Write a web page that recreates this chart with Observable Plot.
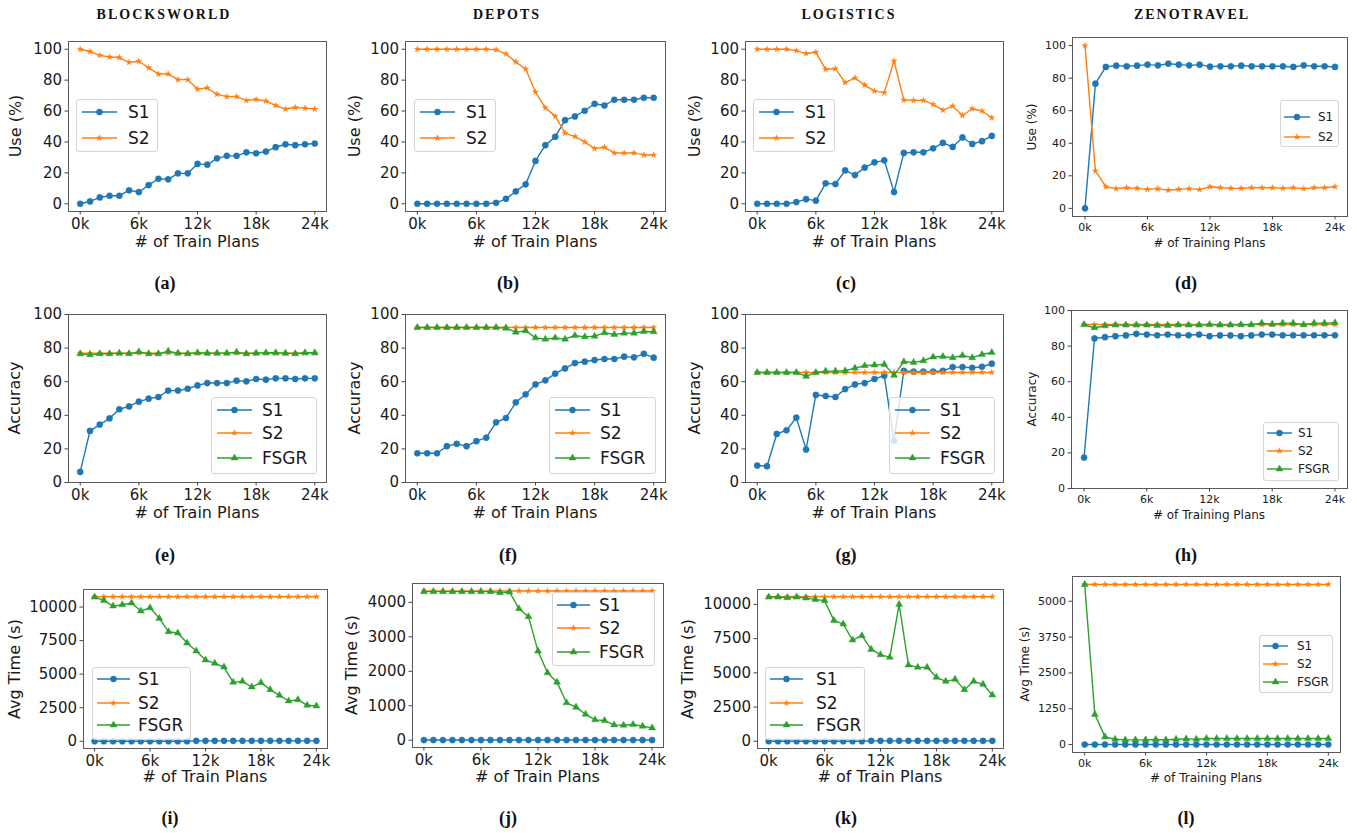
<!DOCTYPE html>
<html><head><meta charset="utf-8">
<script src="https://cdn.jsdelivr.net/npm/d3@7"></script>
<script src="https://cdn.jsdelivr.net/npm/@observablehq/plot@0.6"></script>
<style>
body{margin:0;background:#fff;}
#root{position:relative;width:1357px;height:833px;overflow:hidden;font-family:"DejaVu Sans",sans-serif;color:#1a1a1a;}
.abs{position:absolute;white-space:nowrap;line-height:1;}
.cen{transform:translate(-50%,-50%);}
.rot{transform:translate(-50%,-50%) rotate(-90deg);}
.title{font-family:"Liberation Serif","DejaVu Serif",serif;font-weight:bold;font-size:14px;letter-spacing:2px;color:#111;}
.cap{font-family:"Liberation Serif","DejaVu Serif",serif;font-weight:bold;font-size:18px;color:#111;}
.legend{position:absolute;border:1px solid #d5d5d5;border-radius:3px;background:rgba(255,255,255,0.8);box-sizing:border-box;}
</style>
</head><body><div id="root"></div>
<script>
// ---------- data ----------
const xK = [0,1,2,3,4,5,6,7,8,9,10,11,12,13,14,15,16,17,18,19,20,21,22,23,24];
const xTicks = [0,6,12,18,24];
const xTickLabels = ["0k","6k","12k","18k","24k"];
const pctTicks = [0,20,40,60,80,100];
const time10kTicks = [0,2500,5000,7500,10000];
const time4kTicks = [0,1000,2000,3000,4000];
const time5kTicks = [0,1250,2500,3750,5000];

// Use (%)
const bwUseS1 = [0,1.5,4.1,5.2,5.2,8.7,7.6,12.1,16.2,15.8,19.7,19.7,25.8,25.3,29.4,31,31,33.3,32.7,33.8,36.6,38.5,37.9,38.5,39];
const bwUseS2 = [100,98.5,96,95,94.6,91.5,92.2,88,84,84,80.3,80.3,74.2,74.9,70.8,69.3,69.3,66.9,67.5,66.5,63.6,61.3,62.3,61.9,61.3];
const dpUseS1 = [0,0,0,0,0,0,0,0,0.6,3.2,8,12.6,27.7,37.9,43.3,54.1,56.5,60.2,64.7,63.6,67.3,67.3,67.3,68.6,68.6];
const dpUseS2 = [100,100,100,100,100,100,100,100,99.6,97,91.8,87.2,72.3,62.1,56.7,45.7,43.5,40,35.7,36.6,32.9,32.9,32.9,31.6,31.6];
const lgUseS1 = [0,0,0,0,1.1,3,2,13.2,12.8,21.6,18.6,23.4,26.8,28.1,7.6,32.9,33.3,33.3,35.9,39.4,36.8,42.9,38.7,40.5,43.9];
const lgUseS2 = [100,100,100,100,99.1,97.2,98,87,87.4,78.4,81.4,76.8,72.9,71.9,92.4,67.1,66.9,66.9,64.3,60.6,63.2,57.1,61.5,60,55.6];
const ztUseS1 = [0,76.6,86.9,87.7,87.3,87.7,88.3,87.9,88.9,88.3,87.9,88.3,87.1,87.3,87.3,87.7,87.3,87.3,87.3,87.3,86.9,87.9,87.3,87.3,86.9];
const ztUseS2 = [100,23,13.3,12.1,12.7,12.3,11.7,12.1,11.1,11.7,12.1,11.5,13.3,12.7,12.3,12.3,12.7,12.7,12.7,12.3,12.7,12.1,12.7,12.7,13.3];

// Accuracy
const bwAccS1 = [6.3,30.7,34.5,38.2,43.6,45.3,48.1,49.9,50.9,54.7,54.7,55.8,57.8,59.2,59.2,59.2,60.6,60.2,61.6,61.2,62,62,61.6,62,62];
const bwAccS2 = [77,77,77,77,77,77,77,77,77,77,77,77,77,77,77,77,77,77,77,77,77,77,77,77,77];
const bwAccFSGR = [76.6,76,76.6,76.6,77,76.6,77.8,76.6,76.6,78.2,77,76.6,77.2,77,77,77,77.6,76.6,77,77.2,77.2,77,76.6,77.2,77.2];
const dpAccS1 = [17.4,17.4,17.4,21.6,23,21.6,24.6,26.7,35.8,38.4,47.7,52.5,58.4,60.8,64.8,67.9,71.1,71.9,72.9,73.5,73.5,74.9,74.5,76.6,74.3];
const dpAccS2 = [92.3,92.3,92.3,92.3,92.3,92.3,92.3,92.3,92.3,92.3,92.3,92.3,92.3,92.3,92.3,92.3,92.3,92.3,92.3,92.3,92.3,92.3,92.3,92.3,92.3];
const dpAccFSGR = [92.3,92.3,92.3,92.3,92.3,92.3,92.3,92.3,92.3,91.9,89.5,90.3,86.1,85.3,86.1,85.3,87.5,86.7,87.1,89.1,88.1,88.9,88.9,89.9,89.7];
const lgAccS1 = [10.1,9.7,28.9,31.1,38.6,19.6,52.1,51.5,50.9,55.6,58.4,59.2,61.6,63.6,24.8,66.5,66,66,66,66.5,68.7,68.7,68.3,68.9,70.7];
const lgAccS2 = [65.5,65.5,65.5,65.5,65.5,65.5,65.5,65.5,65.5,65.5,65.5,65.5,65.5,65.5,65.5,65.5,65.5,65.5,65.5,65.5,65.5,65.5,65.5,65.5,65.5];
const lgAccFSGR = [65.5,65.5,65.5,65.5,65.5,63.2,65.5,66.3,66.3,66.5,68.1,69.5,69.9,70.3,63.8,71.9,71.5,72.5,74.7,75,74.3,75.6,74.3,76.2,77.4];
const ztAccS1 = [17.4,84.3,85,85.6,86,86.9,86.5,86.1,86.5,86.1,86.1,86.5,85.6,86,86,85.6,86,86.5,86.5,86.1,86.1,86.1,86.1,86.1,86.1];
const ztAccS2 = [92.1,92.1,92.1,92.1,92.1,92.1,92.1,92.1,92.1,92.1,92.1,92.1,92.1,92.1,92.1,92.1,92.1,92.1,92.1,92.1,92.1,92.1,92.1,92.1,92.1];
const ztAccFSGR = [92.1,90.3,91.4,91.8,91.8,91.8,91.8,91.6,91.6,91.8,91.8,91.8,92.1,91.8,91.8,92,92,92.9,92.3,92.9,92.9,92,92.9,92.9,93.1];

// Avg Time (s)
const bwTimeS1 = [0,0,0,0,0,0,0,0,0,0,0,30,30,30,30,30,30,30,30,30,30,30,30,30,30];
const bwTimeS2 = [10770,10770,10770,10770,10770,10770,10770,10770,10770,10770,10770,10770,10770,10770,10770,10770,10770,10770,10770,10770,10770,10770,10770,10770,10770];
const bwTimeFSGR = [10745,10496,10074,10174,10298,9702,9950,9156,8164,8065,7320,6725,6055,5806,5533,4392,4467,4045,4367,3846,3424,3002,3102,2680,2630];
const dpTimeS1 = [5,5,5,5,5,5,5,5,5,5,5,5,5,5,5,5,5,5,5,5,5,5,5,5,5];
const dpTimeS2 = [4330,4330,4330,4330,4330,4330,4330,4330,4330,4330,4330,4330,4330,4330,4330,4330,4330,4330,4330,4330,4330,4330,4330,4330,4330];
const dpTimeFSGR = [4310,4310,4310,4310,4310,4310,4310,4310,4281,4300,3816,3584,2586,1956,1685,1085,959,755,591,571,445,436,455,407,358];
const lgTimeS1 = [0,0,0,0,0,0,0,0,0,0,0,30,30,30,30,30,30,30,30,30,30,30,30,30,30];
const lgTimeS2 = [10560,10560,10560,10560,10560,10560,10560,10560,10560,10560,10560,10560,10560,10560,10560,10560,10560,10560,10560,10560,10560,10560,10560,10560,10560];
const lgTimeFSGR = [10535,10535,10487,10535,10462,10365,10268,8832,8564,7397,7713,6715,6326,6131,10000,5572,5401,5401,4672,4380,4526,3771,4380,4161,3382];
const ztTimeS1 = [3,3,3,3,3,3,3,3,3,3,3,3,3,3,3,3,3,3,3,3,3,3,3,3,3];
const ztTimeS2 = [5585,5585,5585,5585,5585,5585,5585,5585,5585,5585,5585,5585,5585,5585,5585,5585,5585,5585,5585,5585,5585,5585,5585,5585,5585];
const ztTimeFSGR = [5585,1054,269,187,164,164,164,176,164,187,199,187,211,211,211,211,211,211,211,211,211,211,211,211,211];

const domainTitles = ["BLOCKSWORLD","DEPOTS","LOGISTICS","ZENOTRAVEL"];
const captions = ["(a)","(b)","(c)","(d)","(e)","(f)","(g)","(h)","(i)","(j)","(k)","(l)"];

// ---------- styles ----------
const COLORS = {S1:"#1f77b4", S2:"#ff7f0e", FSGR:"#2ca02c"};
const SYMBOLS = {S1:"circle", S2:"star", FSGR:"triangle"};
const RADII = {S1:3.1, S2:1.9, FSGR:2.6};
const D3SYM = {circle:d3.symbolCircle, star:d3.symbolStar, triangle:d3.symbolTriangle};

const root = document.getElementById("root");
function addText(txt, cls, x, y, style){
  const d = document.createElement("div");
  d.className = "abs " + cls;
  d.textContent = txt;
  d.style.left = x + "px"; d.style.top = y + "px";
  if (style) Object.assign(d.style, style);
  root.appendChild(d);
  return d;
}

const panels = [
 {series:{S1:bwUseS1,S2:bwUseS2}, frame:[68,41,326,211], yTicks:pctTicks, yLabel:"Use (%)", xLabel:"# of Train Plans", yLabX:16, xLabY:242, cap:[165,283],
  legend:{box:[76,99,158,152], ys:[112,138], lx:[82,117], tx:128}},
 {series:{S1:dpUseS1,S2:dpUseS2}, frame:[405,41,665,211], yTicks:pctTicks, yLabel:"Use (%)", xLabel:"# of Train Plans", yLabX:355, xLabY:242, cap:[508,283],
  legend:{box:[414,99,496,152], ys:[112,138], lx:[420,455], tx:466}},
 {series:{S1:lgUseS1,S2:lgUseS2}, frame:[745,41,1003,211], yTicks:pctTicks, yLabel:"Use (%)", xLabel:"# of Train Plans", yLabX:695, xLabY:242, cap:[846,283],
  legend:{box:[753,99,835,152], ys:[112,138], lx:[759,794], tx:805}},
 {series:{S1:ztUseS1,S2:ztUseS2}, frame:[1072,37,1347,216], yTicks:pctTicks, small:true, yLabel:"Use (%)", xLabel:"# of Training Plans", yLabX:1032, xLabY:243, cap:[1186,283],
  legend:{box:[1280,100,1339,147], ys:[117,137], lx:[1284,1310], tx:1318}},

 {series:{S1:bwAccS1,S2:bwAccS2,FSGR:bwAccFSGR}, frame:[68,314,326,482], yTicks:pctTicks, yDomain:[0,100], yLabel:"Accuracy", xLabel:"# of Train Plans", yLabX:15, xLabY:513, cap:[165,555],
  legend:{box:[211,397,317,474], ys:[410,433,458], lx:[217,252], tx:262}},
 {series:{S1:dpAccS1,S2:dpAccS2,FSGR:dpAccFSGR}, frame:[405,314,665,482], yTicks:pctTicks, yDomain:[0,100], yLabel:"Accuracy", xLabel:"# of Train Plans", yLabX:355, xLabY:513, cap:[508,555],
  legend:{box:[549,397,656,474], ys:[410,433,458], lx:[555,590], tx:600}},
 {series:{S1:lgAccS1,S2:lgAccS2,FSGR:lgAccFSGR}, frame:[745,314,1003,482], yTicks:pctTicks, yDomain:[0,100], yLabel:"Accuracy", xLabel:"# of Train Plans", yLabX:695, xLabY:513, cap:[846,555],
  legend:{box:[889,397,995,474], ys:[410,433,458], lx:[895,930], tx:940}},
 {series:{S1:ztAccS1,S2:ztAccS2,FSGR:ztAccFSGR}, frame:[1071,310,1347,488], yTicks:pctTicks, yDomain:[0,100], small:true, yLabel:"Accuracy", xLabel:"# of Training Plans", yLabX:1032, xLabY:515, cap:[1186,555],
  legend:{box:[1263,422,1339,481], ys:[433,451,469], lx:[1267,1292], tx:1298}},

 {series:{S1:bwTimeS1,S2:bwTimeS2,FSGR:bwTimeFSGR}, frame:[83,589,327,748], yTicks:time10kTicks, yLabel:"Avg Time (s)", xLabel:"# of Train Plans", yLabX:15, xLabY:777, cap:[170,818],
  legend:{box:[92,667,191,740], ys:[679,703,725], lx:[97,130], tx:138}},
 {series:{S1:dpTimeS1,S2:dpTimeS2,FSGR:dpTimeFSGR}, frame:[412,583,663,747], yTicks:time4kTicks, yLabel:"Avg Time (s)", xLabel:"# of Train Plans", yLabX:352, xLabY:777, cap:[508,818],
  legend:{box:[552,592,655,666], ys:[605,628,652], lx:[557,590], tx:599}},
 {series:{S1:lgTimeS1,S2:lgTimeS2,FSGR:lgTimeFSGR}, frame:[757,589,1003,748], yTicks:time10kTicks, yLabel:"Avg Time (s)", xLabel:"# of Train Plans", yLabX:688, xLabY:777, cap:[846,818],
  legend:{box:[765,667,865,740], ys:[679,703,725], lx:[770,803], tx:816}},
 {series:{S1:ztTimeS1,S2:ztTimeS2,FSGR:ztTimeFSGR}, frame:[1072,576,1340,752], yTicks:time5kTicks, small:true, yLabel:"Avg Time (s)", xLabel:"# of Training Plans", yLabX:1025, xLabY:778, cap:[1186,818],
  legend:{box:[1259,635,1333,693], ys:[646,664,682], lx:[1263,1288], tx:1297}}
];

function drawPanel(p, idx){
  const ml = 80, mr = 20, mt = 15, mb = 50;
  const [fx0, fy0, fx1, fy1] = p.frame;
  const names = Object.keys(p.series);
  const rows = names.flatMap(n => p.series[n].map((v, i) => ({x: xK[i], y: v, s: n})));
  let yDomain = p.yDomain;
  if (!yDomain) {
    const e = d3.extent(rows, d => d.y);
    const pad = (e[1] - e[0]) * 0.05;
    yDomain = [e[0] - pad, e[1] + pad];
  }
  const xe = d3.extent(xK), xp = (xe[1] - xe[0]) * 0.05;
  const fs = p.small ? 11 : 15;
  const marks = [];
  for (const n of names) {
    const d = rows.filter(r => r.s === n);
    marks.push(Plot.line(d, {x: "x", y: "y", stroke: COLORS[n], strokeWidth: 1.4}));
    marks.push(Plot.dot(d, {x: "x", y: "y", fill: COLORS[n], stroke: COLORS[n], strokeWidth: 0.4, symbol: SYMBOLS[n], r: RADII[n]}));
  }
  marks.push(Plot.frame({stroke: "#5a5a5a", strokeWidth: 1}));
  marks.push(Plot.axisX({ticks: xTicks, tickFormat: d => xTickLabels[xTicks.indexOf(d)], tickSize: 3.5, tickPadding: 3, label: null, stroke: "#444"}));
  marks.push(Plot.axisY({ticks: p.yTicks, tickFormat: d => String(d), tickSize: 3.5, tickPadding: 3, label: null, stroke: "#444"}));
  const svg = Plot.plot({
    width: fx1 - fx0 + ml + mr, height: fy1 - fy0 + mt + mb,
    marginLeft: ml, marginRight: mr, marginTop: mt, marginBottom: mb,
    x: {domain: [xe[0] - xp, xe[1] + xp]},
    y: {domain: yDomain},
    style: {fontSize: fs + "px", fontFamily: '"DejaVu Sans", sans-serif', color: "#1a1a1a", background: "transparent", overflow: "visible"},
    marks
  });
  svg.style.position = "absolute";
  svg.style.left = (fx0 - ml) + "px";
  svg.style.top = (fy0 - mt) + "px";
  root.appendChild(svg);

  const lfs = p.small ? 12 : 16;
  addText(p.yLabel, "rot", p.yLabX, (fy0 + fy1) / 2, {fontSize: lfs + "px"});
  addText(p.xLabel, "cen", (fx0 + fx1) / 2, p.xLabY, {fontSize: lfs + "px"});
  addText(captions[idx], "cen cap", p.cap[0], p.cap[1]);

  // legend
  const L = p.legend;
  const box = document.createElement("div");
  box.className = "legend";
  Object.assign(box.style, {left: L.box[0] + "px", top: L.box[1] + "px", width: (L.box[2] - L.box[0]) + "px", height: (L.box[3] - L.box[1]) + "px"});
  root.appendChild(box);
  const legFs = p.small ? 12 : 17;
  names.forEach((n, i) => {
    const y = L.ys[i];
    const s = d3.create("svg").attr("width", L.lx[1] - L.lx[0] + 10).attr("height", 14)
      .style("position", "absolute").style("left", (L.lx[0] - 5) + "px").style("top", (y - 7) + "px").style("overflow", "visible");
    s.append("line").attr("x1", 5).attr("x2", L.lx[1] - L.lx[0] + 5).attr("y1", 7).attr("y2", 7).attr("stroke", COLORS[n]).attr("stroke-width", 1.4);
    s.append("path").attr("d", d3.symbol(D3SYM[SYMBOLS[n]], RADII[n] * RADII[n] * Math.PI)())
      .attr("transform", `translate(${(L.lx[1] - L.lx[0]) / 2 + 5},7)`).attr("fill", COLORS[n]).attr("stroke", COLORS[n]).attr("stroke-width", 0.4);
    root.appendChild(s.node());
    addText(n, "", L.tx, y, {fontSize: legFs + "px", transform: "translate(0,-50%)"});
  });
}

panels.forEach(drawPanel);

// column titles
const titleX = [164, 507, 849, 1192];
domainTitles.forEach((t, i) => addText(t, "cen title", titleX[i], 15));
</script>
</body></html>
